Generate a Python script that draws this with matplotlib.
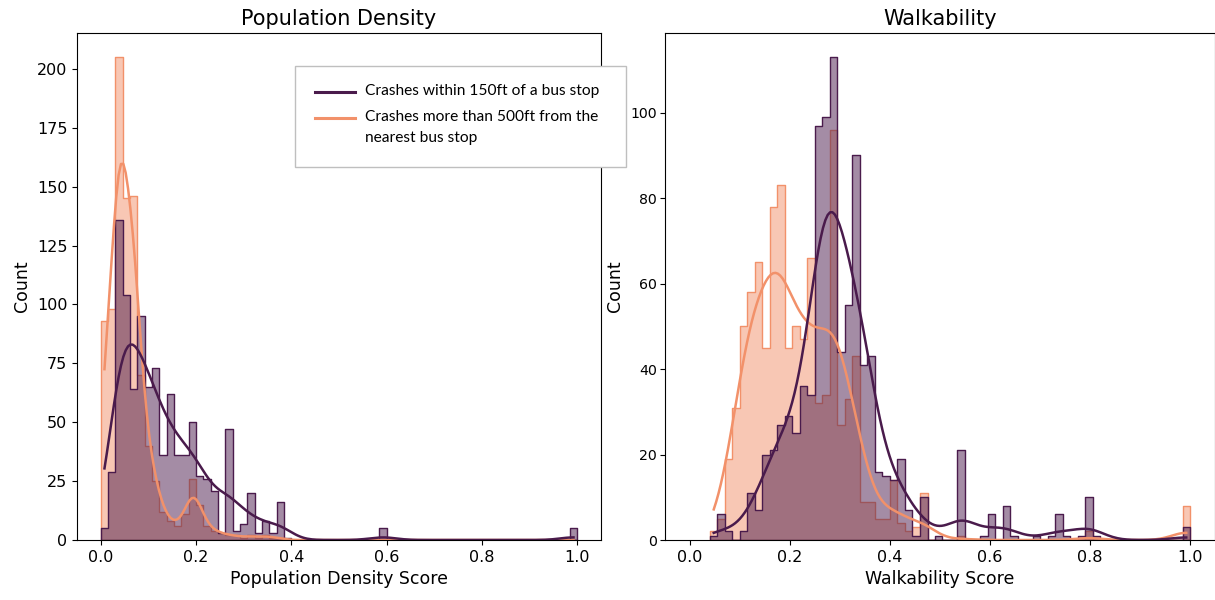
import numpy as np
import pandas as pd
import matplotlib
matplotlib.use("Agg")
import matplotlib.pyplot as plt
import seaborn as sns
from matplotlib.lines import Line2D
from matplotlib.patches import Rectangle

near_label = "Crashes within 150ft of a bus stop"
far_label = "Crashes more than 500ft from the\nnearest bus stop"

# ---- Population density panel: 65 equal bins on [0, 1] ----
density_bins = 65
density_range = (0.0, 1.0)
density_near = [5, 29, 136, 104, 64, 95, 65, 73, 36, 62,
                36, 36, 50, 27, 26, 21, 3, 47, 4, 7,
                20, 3, 8, 3, 16, 1, 0, 0, 0, 0,
                0, 0, 0, 0, 0, 0, 0, 0, 5, 0,
                0, 0, 0, 0, 0, 0, 0, 0, 0, 0,
                0, 0, 0, 0, 0, 0, 0, 0, 0, 0,
                0, 0, 0, 0, 5]
density_far = [93, 98, 205, 145, 146, 70, 40, 25, 12, 8,
               6, 11, 26, 15, 6, 4, 3, 2, 2, 1,
               2, 1, 2, 1, 1, 0, 0, 0, 0, 0,
               0, 0, 0, 0, 0, 0, 0, 0, 0, 0,
               0, 0, 0, 0, 0, 0, 0, 0, 0, 0,
               0, 0, 0, 0, 0, 0, 0, 0, 0, 0,
               0, 0, 0, 0, 0]

# ---- Walkability panel: 64 equal bins on [0.04, 1] ----
walk_bins = 64
walk_range = (0.04, 1.0)
walk_near = [1, 6, 2, 0, 2, 11, 7, 20, 21, 27,
             29, 25, 36, 34, 97, 99, 113, 44, 55, 90,
             41, 43, 16, 15, 14, 19, 7, 1, 10, 0,
             1, 0, 0, 21, 0, 0, 1, 6, 0, 8,
             1, 0, 0, 1, 0, 1, 6, 1, 0, 1,
             10, 1, 0, 0, 0, 0, 0, 0, 0, 0,
             0, 0, 0, 3]
walk_far = [2, 5, 19, 31, 50, 58, 65, 45, 78, 83,
            45, 50, 47, 66, 32, 34, 96, 27, 33, 43,
            9, 9, 5, 5, 14, 4, 2, 3, 11, 0,
            0, 0, 0, 1, 0, 0, 0, 0, 0, 0,
            0, 0, 0, 0, 0, 0, 0, 0, 0, 0,
            2, 0, 0, 0, 0, 0, 0, 0, 0, 0,
            0, 0, 0, 8]

near_color = "#4a1b4c"
far_color = "#f2916a"

W, H = 1215, 600


def build_frame(counts_near, counts_far, nbins, rng):
    edges = np.linspace(rng[0], rng[1], nbins + 1)
    centers = (edges[:-1] + edges[1:]) / 2
    x_near = np.repeat(centers, counts_near)
    x_far = np.repeat(centers, counts_far)
    df = pd.DataFrame({
        "value": np.concatenate([x_near, x_far]),
        "group": [near_label] * len(x_near) + [far_label] * len(x_far),
    })
    return df, edges


fig = plt.figure(figsize=(W / 100, H / 100), dpi=100)
ax1 = fig.add_axes([77 / W, 60 / H, 524 / W, 507 / H])
ax2 = fig.add_axes([665 / W, 60 / H, 550 / W, 507 / H])

palette = {near_label: near_color, far_label: far_color}

for ax, cn, cf, nb, rg, title, xlabel, tsize in [
    (ax1, density_near, density_far, density_bins, density_range,
     "Population Density", "Population Density Score", 11.5),
    (ax2, walk_near, walk_far, walk_bins, walk_range,
     "Walkability", "Walkability Score", 10.2),
]:
    df, edges = build_frame(cn, cf, nb, rg)
    sns.histplot(data=df, x="value", hue="group",
                 hue_order=[near_label, far_label], palette=palette,
                 bins=edges, element="step", kde=True, alpha=0.5,
                 legend=False, ax=ax, linewidth=1.0,
                 line_kws={"linewidth": 1.8})
    ax.set_xlim(-0.05, 1.05)
    ax.set_xticks([0.0, 0.2, 0.4, 0.6, 0.8, 1.0])
    ax.set_title(title, fontsize=15)
    ax.set_xlabel(xlabel, fontsize=12.5)
    ax.set_ylabel("Count", fontsize=12.5)
    ax.tick_params(labelsize=tsize)

ax2.tick_params(axis="x", labelsize=11.5)
ax2.tick_params(axis="y", pad=2.5)
ax1.set_yticks(range(0, 201, 25))
ax2.set_yticks(range(0, 101, 20))


# ---- legend box (drawn in figure pixel positions) ----
def fx(px):
    return px / W


def fy(py):
    return 1 - py / H


box = Rectangle((fx(295), fy(167)), fx(626) - fx(295), fy(66) - fy(167),
                transform=fig.transFigure, facecolor="white",
                edgecolor="#bfbfbf", linewidth=1.0, zorder=10)
fig.add_artist(box)
for (y, color, label) in [(92, near_color, near_label),
                          (118, far_color, far_label)]:
    fig.add_artist(Line2D([fx(315), fx(355)], [fy(y), fy(y)],
                          transform=fig.transFigure, color=color,
                          lw=2.2, zorder=11))
    fig.text(fx(365), fy(y - 8), label, ha="left", va="top",
             family="Lato", fontsize=11.2, linespacing=1.65, zorder=11)

fig.savefig("out.png", dpi=100)
